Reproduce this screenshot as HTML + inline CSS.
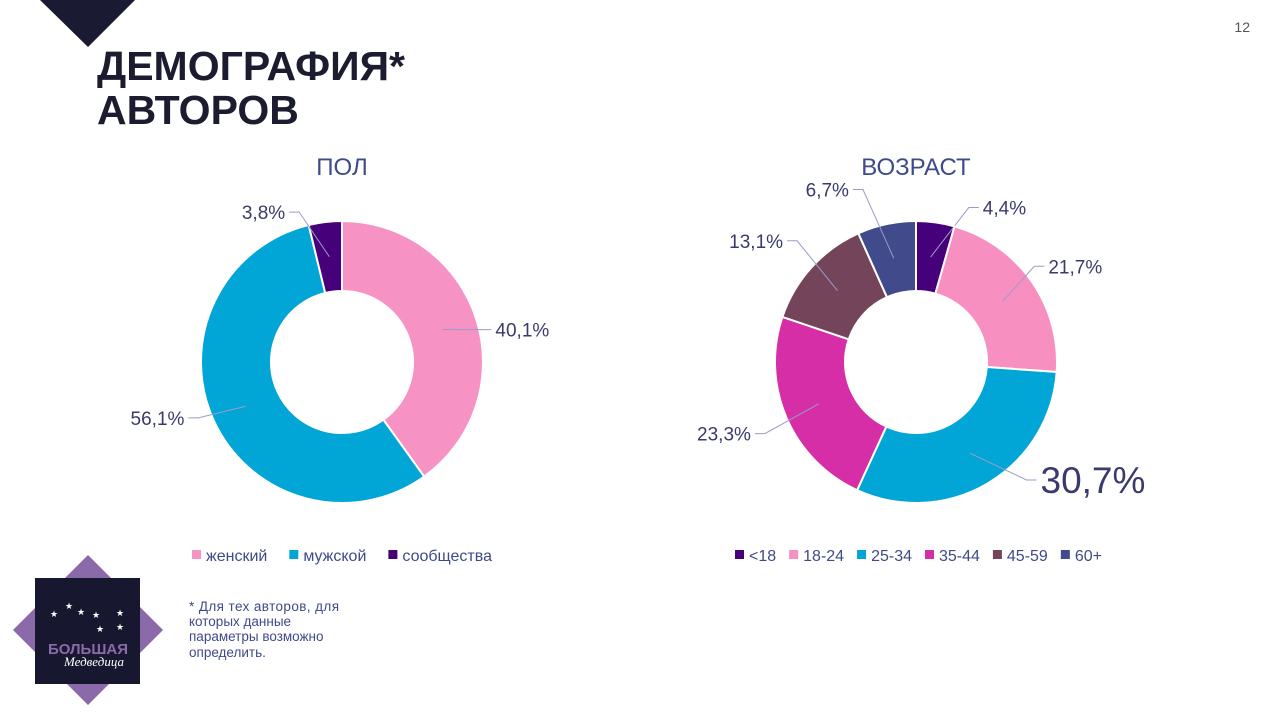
<!DOCTYPE html>
<html><head><meta charset="utf-8"><style>
body{margin:0;width:1279px;height:718px;background:#fff;overflow:hidden;position:relative;font-family:"Liberation Sans","DejaVu Sans",sans-serif;}
.abs{position:absolute}
</style></head><body>
<svg class="abs" style="left:0;top:0" width="1279" height="718">
  <polygon points="40,0 135,0 88,47" fill="#1a1a33"/>
  <text x="1250" y="32" font-size="14" fill="#555" text-anchor="end">12</text>
  <text x="97" y="80" font-size="41" font-weight="bold" fill="#1c1c30" textLength="308">ДЕМОГРАФИЯ*</text>
  <text x="97" y="124" font-size="41" font-weight="bold" fill="#1c1c30">АВТОРОВ</text>
  <text x="342" y="175" font-size="24" fill="#3f4a8a" text-anchor="middle">ПОЛ</text>
  <text x="916" y="175" font-size="24" fill="#3f4a8a" text-anchor="middle">ВОЗРАСТ</text>
  <g id="g1"></g><g id="g2"></g>
  <g id="lg1"></g><g id="lg2"></g>
  <polygon points="88,555 163,630 88,705 13,630" fill="#8a6aa8"/>
  <rect x="35" y="578" width="105" height="106" fill="#171830"/>
  <g fill="#fff" font-size="9">
    <text x="50" y="617">★</text><text x="65" y="609">★</text><text x="77" y="615">★</text><text x="92" y="618">★</text><text x="116" y="616">★</text><text x="96" y="632">★</text><text x="116" y="630">★</text>
  </g>
  <text x="88" y="654" font-size="15" font-weight="bold" fill="#8a6aa8" text-anchor="middle">БОЛЬШАЯ</text>
  <text x="94" y="666" font-size="13" font-style="italic" fill="#fff" text-anchor="middle" font-family="Liberation Serif,serif">Медведица</text>
  <g font-size="13.5" fill="#3f4a8a">
    <text x="189" y="611" textLength="150">* Для тех авторов, для</text>
    <text x="189" y="626">которых данные</text>
    <text x="189" y="641">параметры возможно</text>
    <text x="189" y="657">определить.</text>
  </g>
</svg>
<script>
const genderCats=['женский','мужской','сообщества'];
const genderVals=[40.1,56.1,3.8];
const genderLabels=['40,1%','56,1%','3,8%'];
const ageCats=['<18','18-24','25-34','35-44','45-59','60+'];
const ageVals=[4.4,21.7,30.7,23.3,13.1,6.7];
const ageLabels=['4,4%','21,7%','30,7%','23,3%','13,1%','6,7%'];
const genderColors=['#f792c4','#02a6d6','#46007a'];
const ageColors=['#46007a','#f78fc1','#02a6d6','#d62ea6','#74445a','#414a8a'];
const genderNudge=[[-11,16],[0,-10],[-24,7]];
const ageNudge=[[31,2],[-11,-5],[30,-18],[-6,9],[-2,-15],[-20,-18]];
const NS='http://www.w3.org/2000/svg';
function mk(t,a,p){const e=document.createElementNS(NS,t);for(const k in a)e.setAttribute(k,a[k]);p.appendChild(e);return e;}
function pt(cx,cy,r,deg){const a=deg*Math.PI/180;return [cx+r*Math.sin(a),cy-r*Math.cos(a)];}
function donut(g,cx,cy,vals,labels,colors,bigIdx,prefix,nudge){
  const tot=vals.reduce((a,b)=>a+b,0);let s=0;const R=141,r=71;
  vals.forEach((v,i)=>{
    const a0=s/tot*360,a1=(s+v)/tot*360;s+=v;
    const lg=(a1-a0)>180?1:0;
    const p0=pt(cx,cy,R,a0),p1=pt(cx,cy,R,a1),q1=pt(cx,cy,r,a1),q0=pt(cx,cy,r,a0);
    const p=mk('path',{d:`M${p0}A${R},${R} 0 ${lg} 1 ${p1}L${q1}A${r},${r} 0 ${lg} 0 ${q0}Z`,fill:colors[i],stroke:'#fff','stroke-width':2},g);
    
    
    const m=(a0+a1)/2;const st=pt(cx,cy,106,m),el0=pt(cx,cy,158,m);
    const el=[el0[0]+nudge[i][0],el0[1]+nudge[i][1]];
    const right=Math.sin(m*Math.PI/180)>=0;const ex=el[0]+(right?10:-10);
    const l=mk('polyline',{points:`${st} ${el} ${ex},${el[1]}`,fill:'none',stroke:'#9a9cc8','stroke-width':1},g);
    
    
    const big=i===bigIdx;
    const t=mk('text',{x:ex+(right?4:-4),y:el[1]+(big?13:7),'font-size':big?37:19,fill:'#3a3a6e','text-anchor':right?'start':'end'},g);
    t.textContent=labels[i];
    
    
  });
}
donut(document.getElementById('g1'),342,362,genderVals,genderLabels,genderColors,-1,'gender',genderNudge);
donut(document.getElementById('g2'),916,362,ageVals,ageLabels,ageColors,2,'age',ageNudge);
function legend(g,x,cats,colors,prefix,gap){
  cats.forEach((c,i)=>{
    const rr=mk('rect',{x:x,y:550,width:9,height:9,fill:colors[i]},g);
    
    
    const t=mk('text',{x:x+14,y:561,'font-size':16,fill:'#3f4a8a'},g);
    t.textContent=c;
    
    
    x+=t.getComputedTextLength()+14+gap;
  });
}
legend(document.getElementById('lg1'),192,genderCats,genderColors,'gender',22);
legend(document.getElementById('lg2'),735,ageCats,ageColors,'age',13);
</script>
</body></html>
